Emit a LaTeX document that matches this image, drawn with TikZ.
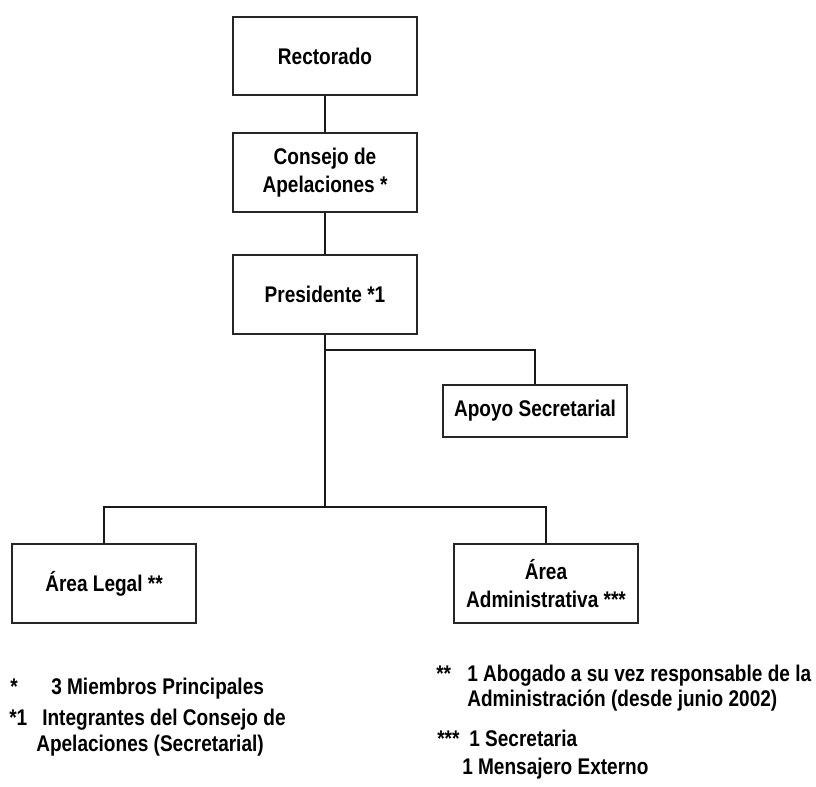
\documentclass[tikz,border=0pt]{standalone}
\usepackage{fontspec}
\setmainfont{Liberation Sans}[FakeStretch=0.84]
\usetikzlibrary{positioning}

\tikzset{
  orgbox/.style={draw=black!85, line width=1.3pt, fill=white, inner sep=0pt,
                 minimum width=138pt, minimum height=59pt, align=center},
  wire/.style={draw=black!90, line width=1.9pt},
  notetext/.style={anchor=base west, inner sep=0pt}
}

\begin{document}
\begin{tikzpicture}[x=0.75pt,y=-0.75pt,
                    every node/.style={font=\fontsize{17pt}{21pt}\selectfont\bfseries}]
\useasboundingbox (0,0) rectangle (816,787);

\begin{scope}[every node/.style={orgbox, font=\fontsize{17pt}{21pt}\selectfont\bfseries}]
  \node (rect)   at (325,56)    {Rectorado};
  \node (cons)   at (325,172.5) {Consejo de\\Apelaciones *};
  \node (pres)   at (325,294.5) {Presidente *1};
  \node[minimum height=39pt] (apoyo) at (535,411) {Apoyo Secretarial};
  \node (legal)  at (104,583.5) {Área Legal **};
  \node (admin)  at (546,583.5) {Área\\Administrativa ***};
\end{scope}

\coordinate (tap) at (325,350);
\coordinate (bus) at (325,507);

\begin{scope}[every path/.style={wire}]
  \path (rect.south) -- (cons.north);
  \path (cons.south) -- (pres.north);
  \path (pres.south) -- (bus);
  \path (tap) -| (apoyo.north);
  \path (legal.north) |- (bus) -| (admin.north);
\end{scope}

% notas
\begin{scope}[every node/.style={notetext, font=\fontsize{17pt}{21pt}\selectfont\bfseries}]
  \node (starA) at (10,694)  {*};
  \node (noteA) at (51,694)  {3 Miembros Principales};
  \node (starB) at (9,725)   {*1};
  \node (noteB) at (42,725)  {Integrantes del Consejo de};
  \node (noteC) at (36,751)  {Apelaciones (Secretarial)};
  \node (starC) at (436,681) {**};
  \node (noteD) at (467,681) {1 Abogado a su vez responsable de la};
  \node (noteE) at (467,706) {Administración (desde junio 2002)};
  \node (starD) at (437,746) {***};
  \node (noteF) at (469,746) {1 Secretaria};
  \node (noteG) at (462,774) {1 Mensajero Externo};
\end{scope}
\end{tikzpicture}
\end{document}
